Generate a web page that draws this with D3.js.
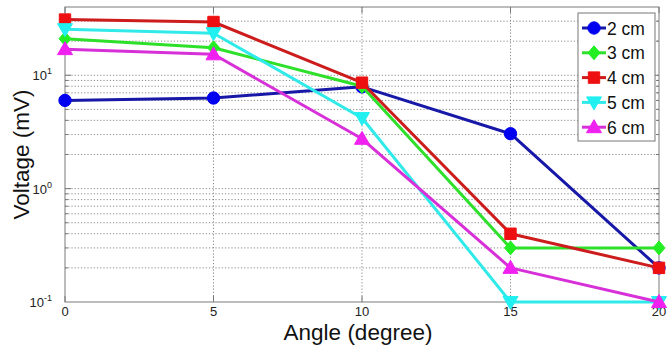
<!DOCTYPE html>
<html><head><meta charset="utf-8">
<script src="https://cdn.jsdelivr.net/npm/d3@7"></script>
<style>body{margin:0;background:#fff}svg{display:block}text{font-family:Arial,"Liberation Sans",sans-serif}</style>
</head><body><div id="chart"></div>
<script>
const angles = [0, 5, 10, 15, 20];
const seriesNames = ["2 cm", "3 cm", "4 cm", "5 cm", "6 cm"];
const v2 = [6.0, 6.3, 7.9, 3.05, 0.2];
const v3 = [21, 17.5, 8.0, 0.3, 0.3];
const v4 = [31, 29.5, 8.6, 0.4, 0.2];
const v5 = [25.5, 23.5, 4.2, 0.1, 0.1];
const v6 = [17, 15.3, 2.75, 0.2, 0.1];
const xTicks = [0, 5, 10, 15, 20];
const yTickExps = [-1, 0, 1];
const lineColors = ["#1818a8", "#2ee02a", "#cc1c1c", "#30eaea", "#d830d8"];
const markColors = ["#0000f0", "#22ee22", "#ee1010", "#22f0f0", "#f020f0"];
const markers = ["circle", "diamond", "square", "tridown", "triup"];

const W = 667, H = 346;
const m = {l: 65, r: 8, t: 7, b: 44};
const svg = d3.select("#chart").append("svg").attr("width", W).attr("height", H);
const x = d3.scaleLinear().domain([0, 20]).range([m.l, W - m.r]);
const y = d3.scaleLog().domain([0.1, 40]).range([H - m.b, m.t]);
const data = [v2, v3, v4, v5, v6];

// grid
const minor = [];
for (let e = -1; e <= 1; e++) for (let k = 1; k <= 9; k++) { const v = k * Math.pow(10, e); if (v > 0.1 && v < 40) minor.push(v); }
svg.append("g").selectAll("line").data(minor).join("line")
  .attr("x1", m.l).attr("x2", W - m.r).attr("y1", d => y(d)).attr("y2", d => y(d))
  .attr("stroke", "#8a8a8a").attr("stroke-width", 1).attr("stroke-dasharray", "1.2,2");
svg.append("g").selectAll("line").data(xTicks.slice(1, -1)).join("line")
  .attr("x1", d => x(d)).attr("x2", d => x(d)).attr("y1", m.t).attr("y2", H - m.b)
  .attr("stroke", "#8a8a8a").attr("stroke-width", 1).attr("stroke-dasharray", "1.2,2");

// inside ticks
const tg = svg.append("g").attr("stroke", "#777").attr("stroke-width", 1);
minor.forEach(v => {
  const isMajor = Math.abs(Math.log10(v) - Math.round(Math.log10(v))) < 1e-9;
  const len = isMajor ? 6 : 3;
  tg.append("line").attr("x1", m.l).attr("x2", m.l + len).attr("y1", y(v)).attr("y2", y(v));
  tg.append("line").attr("x1", W - m.r).attr("x2", W - m.r - len).attr("y1", y(v)).attr("y2", y(v));
});
xTicks.forEach(t => {
  tg.append("line").attr("x1", x(t)).attr("x2", x(t)).attr("y1", H - m.b).attr("y2", H - m.b - 6);
  tg.append("line").attr("x1", x(t)).attr("x2", x(t)).attr("y1", m.t).attr("y2", m.t + 6);
});

// box
svg.append("rect").attr("x", m.l).attr("y", m.t).attr("width", W - m.r - m.l).attr("height", H - m.b - m.t)
  .attr("fill", "none").attr("stroke", "#7a7a7a").attr("stroke-width", 1);

// x axis labels
svg.append("g").selectAll("text").data(xTicks).join("text")
  .attr("x", d => x(d)).attr("y", H - m.b + 14).attr("text-anchor", "middle")
  .attr("font-size", 13).attr("fill", "#222").text(d => d);

// y axis labels
const yl = svg.append("g").selectAll("text").data(yTickExps).join("text")
  .attr("x", m.l - 13).attr("y", d => y(Math.pow(10, d)) + 5).attr("text-anchor", "end")
  .attr("font-size", 13).attr("fill", "#222");
yl.append("tspan").text("10");
yl.append("tspan").attr("font-size", 9).attr("dy", -6).text(d => d);

// axis titles
svg.append("text").attr("x", (m.l + W - m.r) / 2 - 4).attr("y", 340).attr("text-anchor", "middle")
  .attr("font-size", 22.5).attr("fill", "#111").text("Angle (degree)");
svg.append("text").attr("transform", `translate(29,${(m.t + H - m.b) / 2}) rotate(-90)`).attr("text-anchor", "middle")
  .attr("font-size", 22.5).attr("fill", "#111").text("Voltage (mV)");

function markerPath(type) {
  if (type === "circle") return d3.symbol().type(d3.symbolCircle).size(120)();
  if (type === "square") return d3.symbol().type(d3.symbolSquare).size(130)();
  if (type === "diamond") return "M0,-7L6,0L0,7L-6,0Z";
  if (type === "triup") return "M0,-7.5L7.5,5.5L-7.5,5.5Z";
  if (type === "tridown") return "M0,7.5L7.5,-5.5L-7.5,-5.5Z";
}

const line = d3.line().x((d, i) => x(angles[i])).y(d => y(d));
data.forEach((vals, si) => {
  const g = svg.append("g");
  g.append("path").attr("d", line(vals)).attr("fill", "none")
    .attr("stroke", lineColors[si]).attr("stroke-width", 3).attr("stroke-linejoin", "round");
  g.selectAll("path.mk").data(vals).join("path").attr("class", "mk")
    .attr("transform", (d, i) => `translate(${x(angles[i])},${y(d)})`)
    .attr("d", markerPath(markers[si])).attr("fill", markColors[si]).attr("stroke", markColors[si]).attr("stroke-width", 1);
});

// legend
const lg = svg.append("g");
lg.append("rect").attr("x", 578).attr("y", 13).attr("width", 77).attr("height", 128)
  .attr("fill", "#fff").attr("stroke", "#777").attr("stroke-width", 1);
seriesNames.forEach((name, i) => {
  const cy = 28 + i * 24.8;
  lg.append("line").attr("x1", 582).attr("x2", 606).attr("y1", cy).attr("y2", cy)
    .attr("stroke", lineColors[i]).attr("stroke-width", 3);
  lg.append("path").attr("transform", `translate(594,${cy})`).attr("d", markerPath(markers[i]))
    .attr("fill", markColors[i]).attr("stroke", markColors[i]);
  lg.append("text").attr("x", 607).attr("y", cy + 6.5).attr("font-size", 17.5).attr("fill", "#111").text(name);
});
</script></body></html>
